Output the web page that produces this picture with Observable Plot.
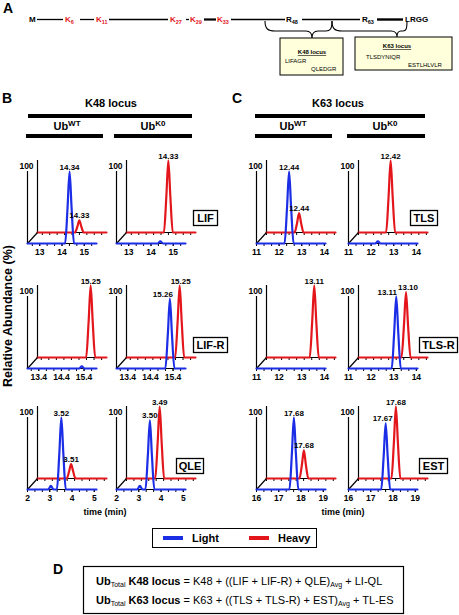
<!DOCTYPE html>
<html><head><meta charset="utf-8">
<script src="https://cdn.jsdelivr.net/npm/d3@7"></script>
<script src="https://cdn.jsdelivr.net/npm/@observablehq/plot@0.6"></script>
<style>
body{margin:0;background:#fff;}
#root{position:relative;width:459px;height:615px;overflow:hidden;background:#fff;font-family:Arial,"Liberation Sans",sans-serif;}
#ov{position:absolute;left:0;top:0;}
.pn{position:absolute;}
</style></head>
<body><div id="root">
<svg id="ov" width="459" height="615" font-family="Arial, 'Liberation Sans', sans-serif" style="white-space:pre">
  <!-- Panel A -->
  <text x="3" y="13" font-size="14" font-weight="bold">A</text>
  <g font-size="8" font-weight="bold" stroke-linecap="butt">
    <text x="29" y="22">M</text>
    <line x1="37" x2="63" y1="19.5" y2="19.5" stroke="#000" stroke-width="1.3"/>
    <text x="65" y="22" fill="#e3161c">K<tspan font-size="5.5" dy="2">6</tspan></text>
    <line x1="80" x2="94" y1="19.5" y2="19.5" stroke="#000" stroke-width="1.3"/>
    <text x="96" y="22" fill="#e3161c">K<tspan font-size="5.5" dy="2">11</tspan></text>
    <line x1="109" x2="168" y1="19.5" y2="19.5" stroke="#000" stroke-width="1.3"/>
    <text x="170" y="22" fill="#e3161c">K<tspan font-size="5.5" dy="2">27</tspan></text>
    <line x1="186" x2="189" y1="19.5" y2="19.5" stroke="#000" stroke-width="1.3"/>
    <text x="190" y="22" fill="#e3161c">K<tspan font-size="5.5" dy="2">29</tspan></text>
    <line x1="204" x2="216" y1="19.5" y2="19.5" stroke="#000" stroke-width="2.2"/>
    <text x="217" y="22" fill="#e3161c">K<tspan font-size="5.5" dy="2">33</tspan></text>
    <line x1="231" x2="285" y1="19.5" y2="19.5" stroke="#000" stroke-width="1.3"/>
    <text x="286" y="22">R<tspan font-size="5.5" dy="2">48</tspan></text>
    <line x1="302" x2="360" y1="19.5" y2="19.5" stroke="#000" stroke-width="1.5"/>
    <text x="362" y="22">R<tspan font-size="5.5" dy="2">63</tspan></text>
    <line x1="377" x2="403" y1="19.5" y2="19.5" stroke="#000" stroke-width="2.4"/>
    <text x="405" y="22">LRGG</text>
  </g>
  <g fill="none" stroke="#000" stroke-width="1.1">
    <path d="M265,21 C265,29 268,31 275,31 L306,31 C310,31 312,33 312,38 C312,33 314,31 318,31 L326,31 C330,31 332,29 332,21"/>
    <path d="M332,21 C332,29 335,31 342,31 L391,31 C395,31 397,33 397,37 C397,33 399,31 401,31 L403,31 C406,31 407,29 407,21"/>
  </g>
  <rect x="280" y="38" width="63" height="37" fill="#ffffdc" stroke="#000" stroke-width="1"/>
  <text x="312" y="54" font-size="6" font-weight="bold" text-anchor="middle" text-decoration="underline">K48 locus</text>
  <text x="285" y="63" font-size="6">LIFAGR</text>
  <text x="311" y="71" font-size="6">QLEDGR</text>
  <rect x="355" y="37" width="97" height="33" fill="#ffffdc" stroke="#000" stroke-width="1"/>
  <text x="397" y="48" font-size="6" font-weight="bold" text-anchor="middle" text-decoration="underline">K63 locus</text>
  <text x="366" y="59" font-size="6">TLSDYNIQR</text>
  <text x="408" y="67" font-size="6">ESTLHLVLR</text>

  <!-- Panel B/C headers -->
  <text x="2" y="103" font-size="14" font-weight="bold">B</text>
  <text x="111" y="107" font-size="11" font-weight="bold" text-anchor="middle">K48 locus</text>
  <rect x="28" y="114" width="164" height="4" fill="#000"/>
  <text x="67" y="130" font-size="11" font-weight="bold" text-anchor="middle">Ub<tspan font-size="8" dy="-4">WT</tspan></text>
  <text x="153" y="130" font-size="11" font-weight="bold" text-anchor="middle">Ub<tspan font-size="8" dy="-4">K0</tspan></text>
  <rect x="26" y="134" width="77" height="4" fill="#000"/>
  <rect x="114" y="134" width="78" height="4" fill="#000"/>

  <text x="232" y="103" font-size="14" font-weight="bold">C</text>
  <text x="338" y="107" font-size="11" font-weight="bold" text-anchor="middle">K63 locus</text>
  <rect x="255" y="114" width="170" height="4" fill="#000"/>
  <text x="293" y="130" font-size="11" font-weight="bold" text-anchor="middle">Ub<tspan font-size="8" dy="-4">WT</tspan></text>
  <text x="385" y="130" font-size="11" font-weight="bold" text-anchor="middle">Ub<tspan font-size="8" dy="-4">K0</tspan></text>
  <rect x="255" y="134" width="77" height="4" fill="#000"/>
  <rect x="347" y="134" width="78" height="4" fill="#000"/>

  <text transform="translate(12,316) rotate(-90)" text-anchor="middle" font-size="12.5" font-weight="bold">Relative Abundance (%)</text>

  <g id="boxes" font-size="11" font-weight="bold" text-anchor="middle"></g>

  <text x="105" y="515" font-size="9" font-weight="bold" text-anchor="middle">time (min)</text>
  <text x="343" y="515" font-size="9" font-weight="bold" text-anchor="middle">time (min)</text>

  <!-- Legend -->
  <rect x="152.5" y="528.5" width="164" height="19" fill="none" stroke="#000" stroke-width="1"/>
  <line x1="163" x2="183" y1="538" y2="538" stroke="#1b2ee6" stroke-width="4"/>
  <text x="192" y="542" font-size="11" font-weight="bold">Light</text>
  <line x1="249" x2="269" y1="538" y2="538" stroke="#e3161c" stroke-width="4"/>
  <text x="278" y="542" font-size="11" font-weight="bold">Heavy</text>

  <!-- Panel D -->
  <text x="53" y="574" font-size="14" font-weight="bold">D</text>
  <rect x="83.5" y="566.5" width="320" height="47" fill="none" stroke="#000" stroke-width="1.2"/>
  <text x="96" y="585" font-size="11"><tspan font-weight="bold">Ub</tspan><tspan font-size="7" dy="2">Total</tspan><tspan dy="-2" font-weight="bold"> K48 locus</tspan><tspan> = K48 + ((LIF + LIF-R) + QLE)</tspan><tspan font-size="7" dy="2">Avg</tspan><tspan dy="-2"> + LI-QL</tspan></text>
  <text x="96" y="604" font-size="11"><tspan font-weight="bold">Ub</tspan><tspan font-size="7" dy="2">Total</tspan><tspan dy="-2" font-weight="bold"> K63 locus</tspan><tspan> = K63 + ((TLS + TLS-R) + EST)</tspan><tspan font-size="7" dy="2">Avg</tspan><tspan dy="-2"> + TL-ES</tspan></text>
</svg>
</div>
<script>
// ---------- Data ----------
const BLUE = "#1b2ee6", RED = "#e3161c";

// peptide names (boxes)
const peptideNames = ["LIF", "LIF-R", "QLE", "TLS", "TLS-R", "EST"];

// time axis domains (min) and tick labels
const lifDomain = [12.45, 15.55], lifTicks = [13, 14, 15];
const lifrDomain = [12.9, 15.95], lifrTicks = [13.4, 14.4, 15.4];
const qleDomain = [2, 5.1], qleTicks = [2, 3, 4, 5];
const tlsDomain = [11, 14.05], tlsTicks = [11, 12, 13, 14];
const tlsrDomain = [11, 14.05], tlsrTicks = [11, 12, 13, 14];
const estDomain = [16, 19.1], estTicks = [16, 17, 18, 19];

// traces: [time (min), relative abundance (%)]
const lifWT_light = [[12.45,0],[14.14,0],[14.25,50],[14.34,100],[14.43,50],[14.54,0],[15.55,0]];
const lifWT_heavy = [[12.45,0],[14.13,0],[14.24,8],[14.33,17],[14.42,8],[14.53,0],[15.55,0]];
const lifK0_light = [[12.45,0],[14.3,0],[14.42,3],[14.54,0],[15.55,0]];
const lifK0_heavy = [[12.45,0],[14.13,0],[14.24,50],[14.33,100],[14.42,50],[14.53,0],[15.55,0]];

const lifrWT_light = [[12.9,0],[15.18,0],[15.3,3],[15.42,0],[15.95,0]];
const lifrWT_heavy = [[12.9,0],[15.05,0],[15.16,50],[15.25,100],[15.34,50],[15.45,0],[15.95,0]];
const lifrK0_light = [[12.9,0],[15.06,0],[15.17,48],[15.26,97],[15.35,48],[15.46,0],[15.95,0]];
const lifrK0_heavy = [[12.9,0],[15.05,0],[15.16,50],[15.25,100],[15.34,50],[15.45,0],[15.95,0]];

const qleWT_light = [[2,0],[2.93,0],[3.05,5],[3.17,0],[3.32,0],[3.43,50],[3.52,100],[3.61,50],[3.72,0],[5.1,0]];
const qleWT_heavy = [[2,0],[3.31,0],[3.42,10],[3.51,20],[3.6,10],[3.71,0],[5.1,0]];
const qleK0_light = [[2,0],[2.93,0],[3.05,5],[3.17,0],[3.3,0],[3.41,48],[3.5,96],[3.59,48],[3.7,0],[5.1,0]];
const qleK0_heavy = [[2,0],[3.29,0],[3.4,50],[3.49,100],[3.58,50],[3.69,0],[5.1,0]];

const tlsWT_light = [[11,0],[12.24,0],[12.35,50],[12.44,100],[12.53,50],[12.64,0],[14.05,0]];
const tlsWT_heavy = [[11,0],[12.24,0],[12.35,13],[12.44,27],[12.53,13],[12.64,0],[14.05,0]];
const tlsK0_light = [[11,0],[12.18,0],[12.3,3],[12.42,0],[14.05,0]];
const tlsK0_heavy = [[11,0],[12.22,0],[12.33,50],[12.42,100],[12.51,50],[12.62,0],[14.05,0]];

const tlsrWT_light = [[11,0],[14.05,0]];
const tlsrWT_heavy = [[11,0],[12.91,0],[13.02,50],[13.11,100],[13.2,50],[13.31,0],[14.05,0]];
const tlsrK0_light = [[11,0],[12.91,0],[13.02,50],[13.11,100],[13.2,50],[13.31,0],[14.05,0]];
const tlsrK0_heavy = [[11,0],[12.9,0],[13.01,45],[13.1,91],[13.19,45],[13.3,0],[14.05,0]];

const estWT_light = [[16,0],[17.48,0],[17.59,50],[17.68,100],[17.77,50],[17.88,0],[19.1,0]];
const estWT_heavy = [[16,0],[17.48,0],[17.59,19],[17.68,39],[17.77,19],[17.88,0],[19.1,0]];
const estK0_light = [[16,0],[17.47,0],[17.58,46],[17.67,92],[17.76,46],[17.87,0],[19.1,0]];
const estK0_heavy = [[16,0],[17.48,0],[17.59,50],[17.68,100],[17.77,50],[17.88,0],[19.1,0]];

// ---------- Layout ----------
const colX = [27, 116, 256, 348];   // front axis origin x (page px)
const rowY = [243, 368, 489];       // front baseline y (page px)

const panels = [
  {c:0,r:0,domain:lifDomain,ticks:lifTicks,light:lifWT_light,heavy:lifWT_heavy,labL:true,labH:true},
  {c:1,r:0,domain:lifDomain,ticks:lifTicks,light:lifK0_light,heavy:lifK0_heavy,labL:false,labH:true},
  {c:0,r:1,domain:lifrDomain,ticks:lifrTicks,light:lifrWT_light,heavy:lifrWT_heavy,labL:false,labH:true},
  {c:1,r:1,domain:lifrDomain,ticks:lifrTicks,light:lifrK0_light,heavy:lifrK0_heavy,labL:true,labH:true,ldx:-7,hdx:1},
  {c:0,r:2,domain:qleDomain,ticks:qleTicks,light:qleWT_light,heavy:qleWT_heavy,labL:true,labH:true},
  {c:1,r:2,domain:qleDomain,ticks:qleTicks,light:qleK0_light,heavy:qleK0_heavy,labL:true,labH:true},
  {c:2,r:0,domain:tlsDomain,ticks:tlsTicks,light:tlsWT_light,heavy:tlsWT_heavy,labL:true,labH:true},
  {c:3,r:0,domain:tlsDomain,ticks:tlsTicks,light:tlsK0_light,heavy:tlsK0_heavy,labL:false,labH:true},
  {c:2,r:1,domain:tlsrDomain,ticks:tlsrTicks,light:tlsrWT_light,heavy:tlsrWT_heavy,labL:false,labH:true},
  {c:3,r:1,domain:tlsrDomain,ticks:tlsrTicks,light:tlsrK0_light,heavy:tlsrK0_heavy,labL:true,labH:true,ldx:-9,hdx:2},
  {c:2,r:2,domain:estDomain,ticks:estTicks,light:estWT_light,heavy:estWT_heavy,labL:true,labH:true},
  {c:3,r:2,domain:estDomain,ticks:estTicks,light:estK0_light,heavy:estK0_heavy,labL:true,labH:true,ldx:-3}
];

const W = 69, H = 72, DX = 10, DY = 11;
const ML = 14, MR = 30, MT = 30, MB = 18;
const root = document.getElementById("root");

for (const p of panels) {
  const [d0, d1] = p.domain;
  const xs = d3.scaleLinear(p.domain, [0, W]);
  const diag = [{x1: d0, y1: 0, x2: xs.invert(DX), y2: DY * 100 / H}];
  const step = (p.ticks[1] - p.ticks[0]) / 3;
  const start = p.ticks[0] - Math.floor((p.ticks[0] - d0) / step + 1e-9) * step;
  const minor = d3.range(start, d1 + 1e-9, step);
  const tk = 3 * 100 / H;
  const apexL = d3.greatest(p.light, d => d[1]);
  const apexH = d3.greatest(p.heavy, d => d[1]);
  const back = {dx: DX, dy: -DY};
  const marks = [
    // back (heavy) axis
    Plot.ruleY([0], {x1: d0, x2: d1, stroke: "#000", strokeWidth: 1.2, ...back}),
    Plot.ruleX(minor, {x: d => d, y1: 0, y2: -tk, stroke: "#000", strokeWidth: 1, ...back}),
    Plot.ruleX([d0], {y1: 0, y2: 100, stroke: "#000", strokeWidth: 1.2, ...back}),
    Plot.line(p.heavy, {x: d => d[0], y: d => d[1], curve: "monotone-x", stroke: RED, strokeWidth: 2.2, ...back}),
    // diagonal
    Plot.link(diag, {x1: "x1", y1: "y1", x2: "x2", y2: "y2", stroke: "#000", strokeWidth: 1.2}),
    // front (light) axis
    Plot.ruleY([0], {x1: d0, x2: d1, stroke: "#000", strokeWidth: 1.2}),
    Plot.ruleX(minor, {x: d => d, y1: 0, y2: -tk, stroke: "#000", strokeWidth: 1}),
    Plot.ruleX([d0], {y1: 0, y2: 100, stroke: "#000", strokeWidth: 1.2}),
    Plot.line(p.light, {x: d => d[0], y: d => d[1], curve: "monotone-x", stroke: BLUE, strokeWidth: 2.2}),
    Plot.text(["100"], {x: d0, y: 100, text: d => d, dx: -1, dy: -3, lineAnchor: "bottom", fontSize: 8.5, fontWeight: "bold"})
  ];
  if (p.labH) marks.push(Plot.text([apexH], {x: d => d[0], y: d => d[1], text: d => d[0].toFixed(2), dx: DX + (p.hdx || 0), dy: -DY - 2, lineAnchor: "bottom", fontSize: 8, fontWeight: "bold"}));
  if (p.labL) marks.push(Plot.text([apexL], {x: d => d[0], y: d => d[1], text: d => d[0].toFixed(2), dx: p.ldx || 0, dy: -2, lineAnchor: "bottom", fontSize: 8, fontWeight: "bold"}));

  const chart = Plot.plot({
    width: ML + W + MR, height: MT + H + MB,
    marginLeft: ML, marginRight: MR, marginTop: MT, marginBottom: MB,
    x: {domain: p.domain, ticks: p.ticks, tickSize: 3, tickPadding: 2, tickFormat: d => String(d), label: null},
    y: {domain: [0, 100], axis: null},
    style: {background: "transparent", overflow: "visible", fontFamily: "Arial, 'Liberation Sans', sans-serif", fontSize: "8.5px", fontWeight: "bold", color: "#000"},
    marks
  });
  const div = document.createElement("div");
  div.className = "pn";
  div.style.left = (colX[p.c] - ML) + "px";
  div.style.top = (rowY[p.r] - MT - H) + "px";
  div.appendChild(chart);
  root.appendChild(div);
}

// peptide name boxes
const boxPos = [[193,210,24],[193,337,34],[176,458,27],[410,210,27],[419,337,38],[419,458,28]];
const g = document.getElementById("boxes");
const NS = "http://www.w3.org/2000/svg";
peptideNames.forEach((name, i) => {
  const [x, y, w] = boxPos[i];
  const r = document.createElementNS(NS, "rect");
  r.setAttribute("x", x + 0.5); r.setAttribute("y", y + 0.5);
  r.setAttribute("width", w); r.setAttribute("height", 15);
  r.setAttribute("fill", "#fff"); r.setAttribute("stroke", "#000"); r.setAttribute("stroke-width", "1.3");
  g.appendChild(r);
  const t = document.createElementNS(NS, "text");
  t.setAttribute("x", x + 0.5 + w / 2); t.setAttribute("y", y + 12);
  t.textContent = name;
  g.appendChild(t);
});
</script>
</body></html>
